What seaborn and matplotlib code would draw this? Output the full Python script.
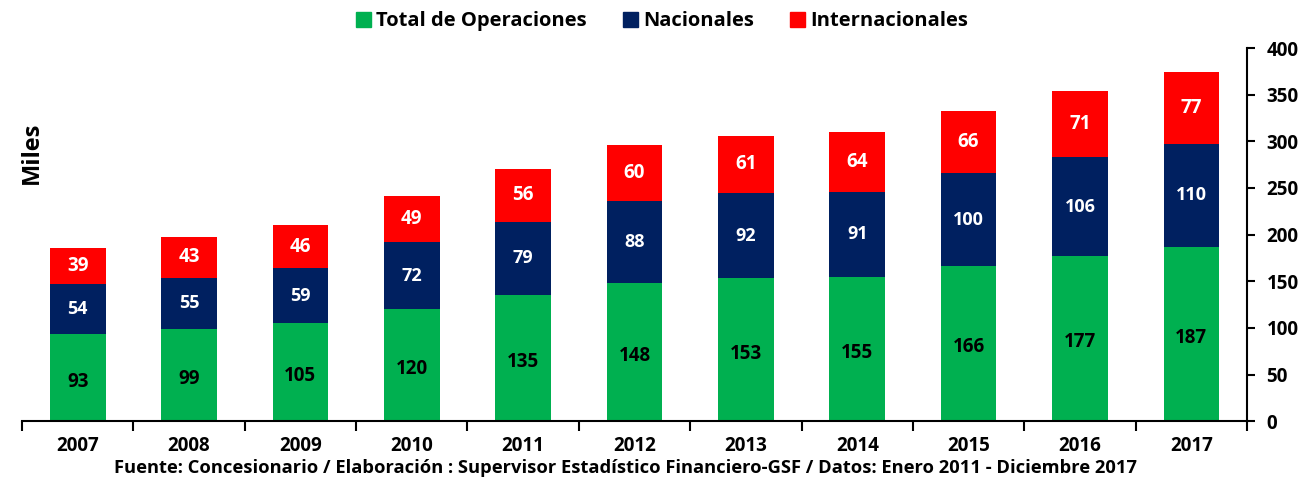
import numpy as np
import pandas as pd
import seaborn as sns
import matplotlib.pyplot as plt
from matplotlib.patches import Patch

# --- datos (miles de operaciones) ---
years = ["2007", "2008", "2009", "2010", "2011", "2012", "2013", "2014", "2015", "2016", "2017"]
total_ops = [93, 99, 105, 120, 135, 148, 153, 155, 166, 177, 187]
nacionales = [54, 55, 59, 72, 79, 88, 92, 91, 100, 106, 110]
internacionales = [39, 43, 46, 49, 56, 60, 61, 64, 66, 71, 77]

GREEN, NAVY, RED = "#00B050", "#002060", "#FF0000"

sns.set_theme(style="white", rc={"text.color": "black", "xtick.color": "black",
                                 "ytick.color": "black", "axes.labelcolor": "black"})
plt.rcParams["font.family"] = ["Open Sans", "DejaVu Sans"]

df = pd.DataFrame({"year": years, "total": total_ops,
                   "nac": nacionales, "intl": internacionales})
df["lvl2"] = df["total"] + df["nac"]
df["lvl3"] = df["lvl2"] + df["intl"]

fig = plt.figure(figsize=(13.08, 4.83), dpi=100)
ax = fig.add_axes([0.0168, 0.128, 0.9366, 0.7726])

# barras apiladas: se dibujan de la mas alta a la mas baja
for col, c in [("lvl3", RED), ("lvl2", NAVY), ("total", GREEN)]:
    sns.barplot(data=df, x="year", y=col, color=c, width=0.5, saturation=1,
                linewidth=0, ax=ax)

for i, row in df.iterrows():
    ax.text(i, row["total"] / 2 - 4, str(row["total"]), ha="center", va="center",
            fontsize=13.5, fontweight="bold", color="black")
    ax.text(i, row["total"] + row["nac"] / 2, str(row["nac"]), ha="center", va="center",
            fontsize=13, fontweight="bold", color="white")
    ax.text(i, row["lvl2"] + row["intl"] / 2, str(row["intl"]), ha="center", va="center",
            fontsize=13.5, fontweight="bold", color="white")

ax.set_xlim(-0.5, len(years) - 0.5)
ax.set_ylim(0, 400)
ax.set_yticks(np.arange(0, 401, 50))
ax.yaxis.tick_right()
ax.set_xlabel("")
ax.set_ylabel("")

for s in ["top", "left"]:
    ax.spines[s].set_visible(False)
for s in ["bottom", "right"]:
    ax.spines[s].set_color("black")
    ax.spines[s].set_linewidth(1.5)

# ticks del eje x entre categorias, etiquetas centradas
ax.set_xticks(np.arange(-0.5, len(years), 1.0))
ax.set_xticklabels([])
ax.set_xticks(np.arange(len(years)), minor=True)
ax.set_xticklabels(years, minor=True)
ax.tick_params(axis="x", which="major", direction="out", length=7, width=1.5,
               color="black", bottom=True)
ax.tick_params(axis="x", which="minor", length=0, pad=11, labelsize=13.5)
for lbl in ax.get_xticklabels(minor=True):
    lbl.set_fontweight("bold")
ax.tick_params(axis="y", direction="out", length=6, width=1.5, color="black",
               right=True, labelsize=13.5, pad=8)
for lbl in ax.get_yticklabels():
    lbl.set_fontweight("bold")

fig.text(0.024, 0.683, "Miles", rotation=90, ha="center", va="center",
         fontsize=17, fontweight="bold")

handles = [Patch(color=GREEN, label="Total de Operaciones"),
           Patch(color=NAVY, label="Nacionales"),
           Patch(color=RED, label="Internacionales")]
fig.legend(handles=handles, loc="center", bbox_to_anchor=(0.506, 0.956), ncol=3,
           frameon=False, prop={"weight": "bold", "size": 14.5},
           handlelength=0.75, handleheight=0.75, handletextpad=0.25, columnspacing=1.8)

fig.text(0.478, 0.032,
         "Fuente: Concesionario / Elaboración : Supervisor Estadístico Financiero-GSF / Datos: Enero 2011 - Diciembre 2017",
         ha="center", va="center", fontsize=13.2, fontweight="bold")

fig.savefig("out.png", dpi=100)
